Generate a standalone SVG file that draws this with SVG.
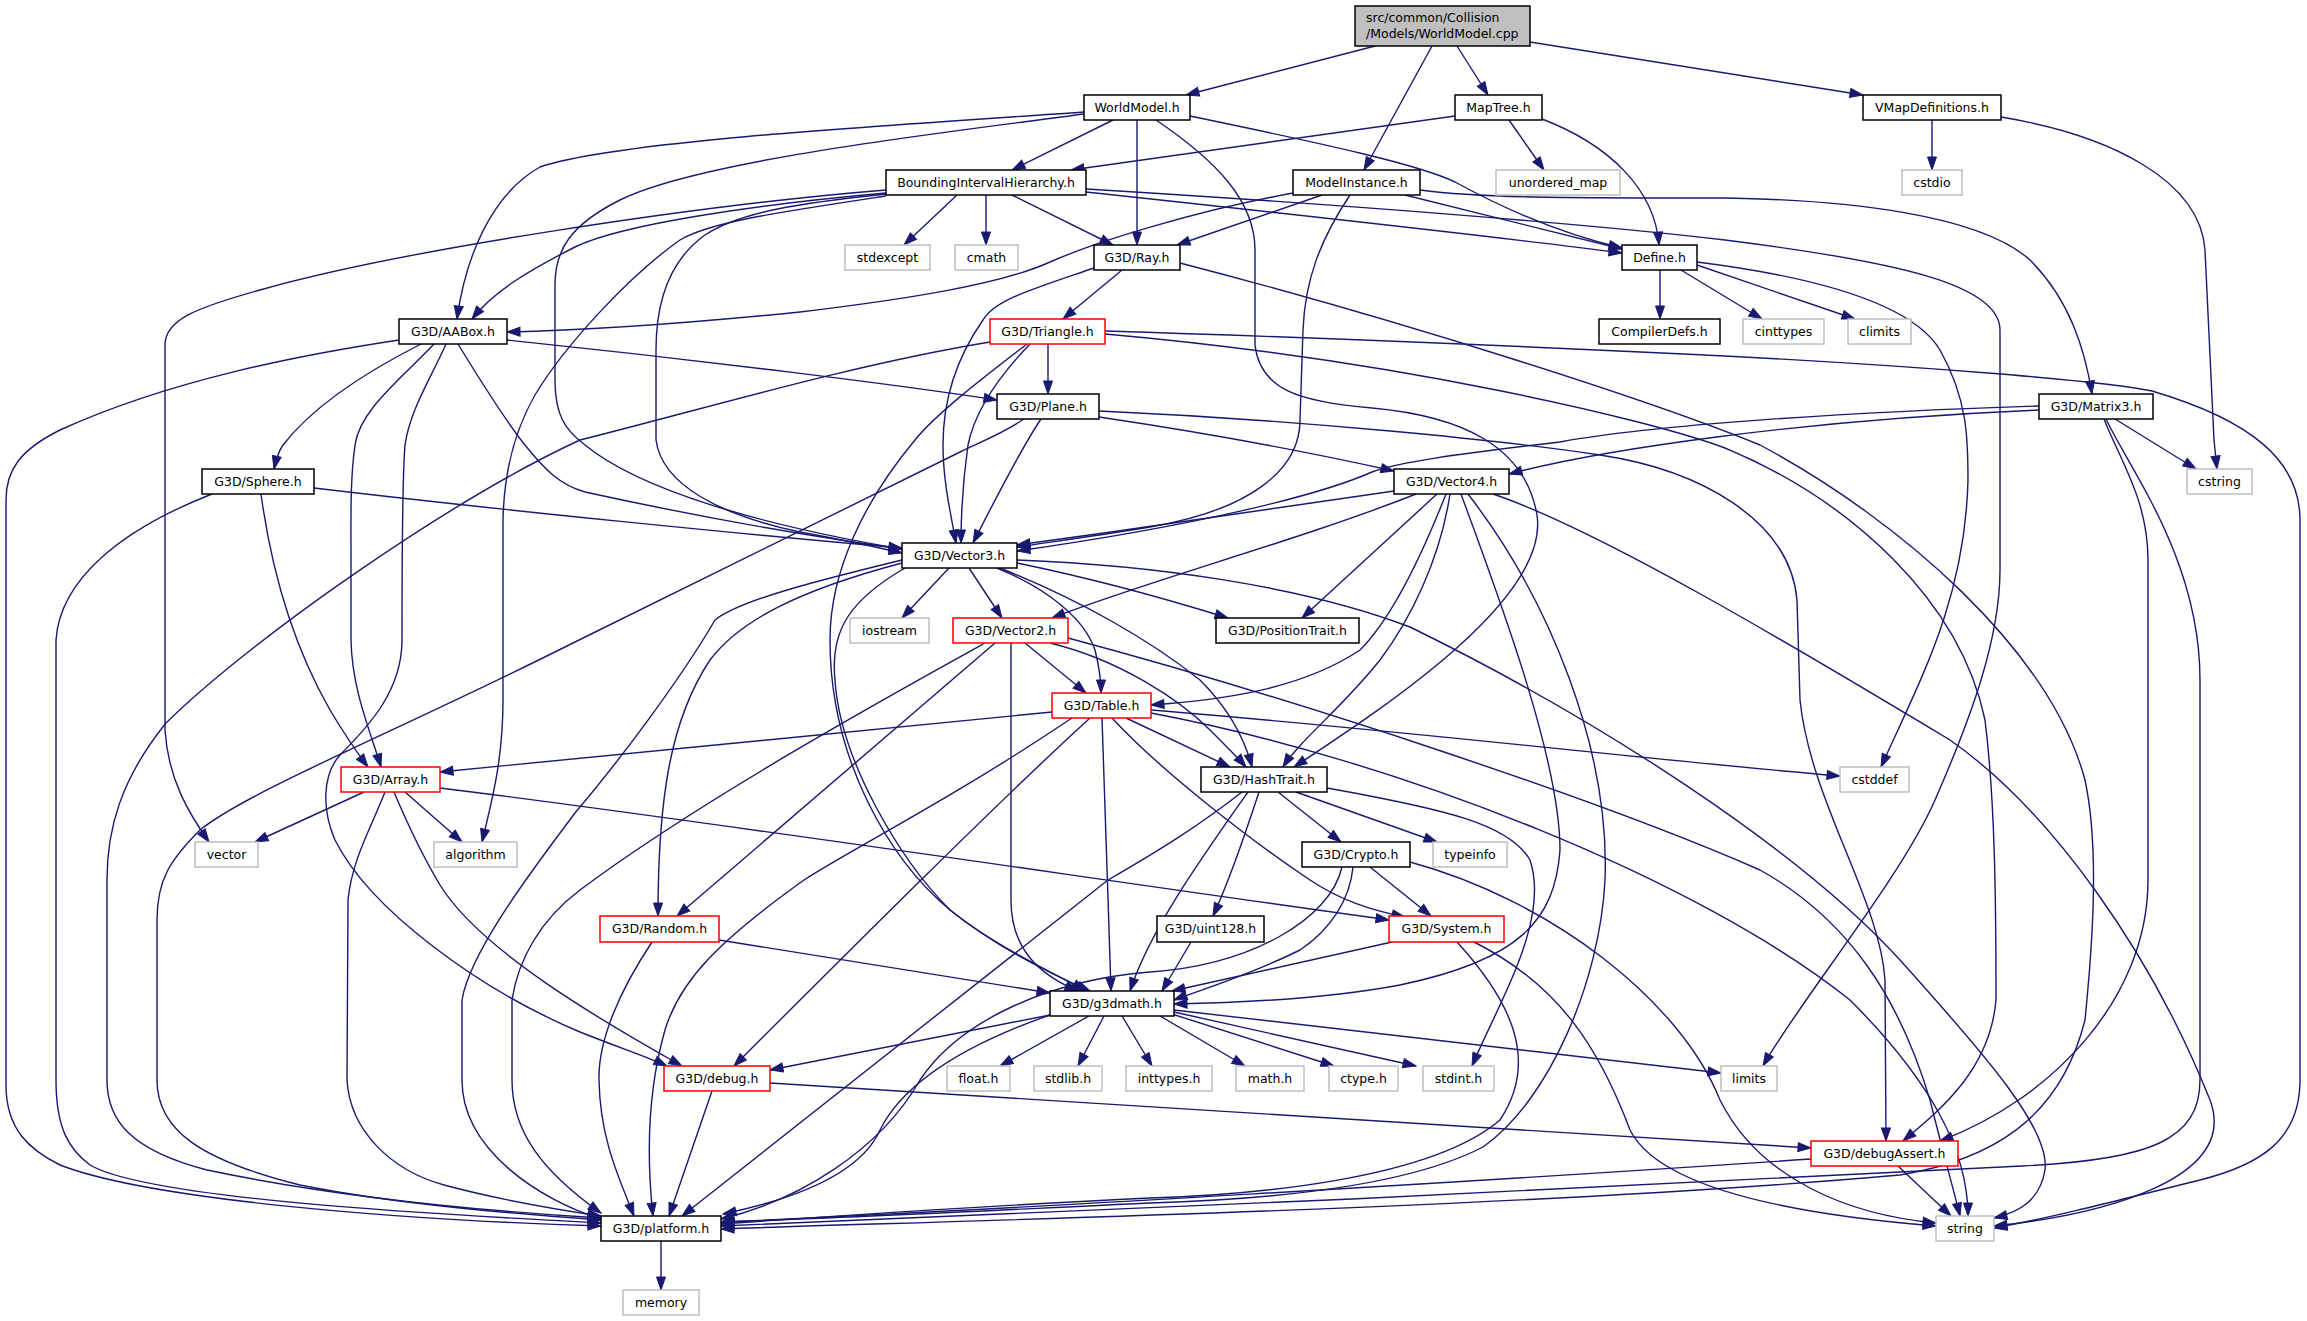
<svg xmlns="http://www.w3.org/2000/svg" width="2307" height="1321" viewBox="0 0 2307 1321">
<style>
.e{fill:none;stroke:#191970;stroke-width:1.4;marker-end:url(#a)}
.n{fill:#fff;stroke:#000;stroke-width:1.5}
.r{fill:#fff;stroke:#ff0000;stroke-width:1.5}
.g{fill:#fff;stroke:#bfbfbf;stroke-width:1.5}
.root{fill:#bfbfbf;stroke:#000;stroke-width:1.5}
text{font-family:"DejaVu Sans","Liberation Sans",sans-serif;font-size:12.5px;fill:#000;text-anchor:middle}
.l{text-anchor:start}
</style>
<defs>
<marker id="a" markerUnits="userSpaceOnUse" markerWidth="14" markerHeight="10" refX="13" refY="4.5" orient="auto" overflow="visible">
<path d="M0,0 L13,4.5 L0,9 Z" fill="#191970" stroke="#191970" stroke-width="1"/>
</marker>
</defs>
<rect width="2307" height="1321" fill="#fff"/>
<g id="edges">
<path class="e" d="M1375,46 L1186,95"/>
<path class="e" d="M1432,46 L1364,170"/>
<path class="e" d="M1457,46 L1488,95"/>
<path class="e" d="M1530,42 L1863,95"/>
<path class="e" d="M1113,120 L1012,170"/>
<path class="e" d="M1137,120 L1137,245"/>
<path class="e" d="M1190,116 C1330,145 1420,165 1455,182 C1510,212 1570,236 1622,248"/>
<path class="e" d="M1084,112 C900,125 620,140 540,167 C490,195 465,260 457,319"/>
<path class="e" d="M1084,114 C950,132 700,160 620,200 C570,225 555,250 555,285 L555,380 C555,415 565,430 585,445 C640,490 760,525 902,549"/>
<path class="e" d="M1156,120 C1215,160 1255,200 1255,250 L1255,345 C1260,390 1300,402 1372,408 C1460,416 1525,445 1537,515 C1550,600 1380,710 1294,767"/>
<path class="e" d="M1455,116 L1071,170"/>
<path class="e" d="M1509,120 L1544,170"/>
<path class="e" d="M1542,119 C1610,145 1655,190 1659,245"/>
<path class="e" d="M1932,120 L1932,170"/>
<path class="e" d="M2001,117 C2110,135 2200,180 2205,250 L2214,440 C2215,450 2216,460 2217,469"/>
<path class="e" d="M957,195 L904,245"/>
<path class="e" d="M986,195 L986,245"/>
<path class="e" d="M1012,195 L1113,245"/>
<path class="e" d="M1086,192 C1300,215 1500,237 1622,253"/>
<path class="e" d="M886,193 C750,205 620,225 575,247 C530,270 495,290 472,319"/>
<path class="e" d="M886,194 C800,203 740,212 705,235 C670,260 656,300 656,350 L656,440 C662,485 720,515 800,532 C850,541 880,548 902,553"/>
<path class="e" d="M886,190 C700,205 400,250 260,290 C195,308 165,320 165,345 L165,730 C168,780 190,815 209,842"/>
<path class="e" d="M886,196 C780,212 710,222 680,240 C630,275 565,345 535,395 C515,430 504,470 503,520 L503,700 C503,760 492,800 482,842"/>
<path class="e" d="M1086,189 C1350,205 1600,225 1725,240 C1900,262 2000,285 2000,330 L2000,570 C2000,640 1970,720 1935,800 C1900,880 1800,1000 1763,1066"/>
<path class="e" d="M1322,195 L1177,245"/>
<path class="e" d="M1405,195 L1622,249"/>
<path class="e" d="M1293,193 C1200,210 1100,240 1050,262 C1000,285 900,300 800,312 C700,322 600,330 507,332"/>
<path class="e" d="M1350,195 C1320,240 1305,280 1303,330 L1300,420 C1300,470 1250,510 1150,527 C1090,537 1050,542 1017,547"/>
<path class="e" d="M1420,190 C1480,198 1560,198 1725,198 C1850,200 1980,215 2030,260 C2070,300 2085,350 2092,394"/>
<path class="e" d="M1660,270 L1660,319"/>
<path class="e" d="M1681,270 L1762,319"/>
<path class="e" d="M1697,265 L1855,319"/>
<path class="e" d="M1697,262 C1800,275 1910,300 1940,350 C1968,400 1968,440 1968,480 C1965,600 1920,680 1881,767"/>
<path class="e" d="M1122,270 L1063,319"/>
<path class="e" d="M1094,268 C1030,290 995,300 983,320 C955,360 943,400 943,445 C943,480 950,510 956,543"/>
<path class="e" d="M1180,263 C1400,320 1650,400 1760,445 C1900,520 2050,650 2085,780 C2100,850 2092,950 2085,1020 C2060,1120 1990,1160 1900,1175 C1500,1210 900,1222 721,1229"/>
<path class="e" d="M1048,344 L1048,394"/>
<path class="e" d="M1030,344 C1000,375 975,410 968,445 C963,480 961,510 961,543"/>
<path class="e" d="M1027,344 C980,380 935,415 915,440 C865,500 830,570 830,640 C830,760 890,860 950,910 C1000,950 1060,978 1090,991"/>
<path class="e" d="M990,342 C850,365 700,410 580,440 C450,500 250,640 166,723 C120,780 107,830 107,880 L107,1080 C107,1120 130,1150 207,1170 C350,1200 500,1212 601,1218"/>
<path class="e" d="M1105,334 C1400,360 1650,420 1725,448 C1850,500 1960,600 1985,720 C1995,800 1996,900 1996,1000 C1990,1070 1940,1110 1903,1141"/>
<path class="e" d="M1105,331 C1400,340 1600,350 1725,356 C1900,365 2100,380 2152,391 C2250,420 2300,460 2300,520 L2300,1080 C2300,1140 2260,1165 2200,1180 C2100,1205 2040,1220 1994,1228"/>
<path class="e" d="M507,340 C700,360 900,385 997,400"/>
<path class="e" d="M421,344 C360,375 310,410 283,445 C278,452 276,460 274,469"/>
<path class="e" d="M434,344 C400,380 360,410 355,445 C350,480 351,520 351,560 L351,640 C352,690 370,730 381,767"/>
<path class="e" d="M458,344 C480,380 505,420 525,445 C545,470 560,485 585,492 C690,515 800,535 902,549"/>
<path class="e" d="M446,344 C430,380 410,410 405,445 C402,480 402,560 402,640 C402,690 370,725 340,755 C322,775 322,810 335,840 C370,910 480,990 580,1032 C620,1048 650,1058 667,1066"/>
<path class="e" d="M399,340 C300,355 170,380 60,430 C20,450 6,470 6,500 L6,1085 C6,1130 30,1150 60,1165 C150,1200 400,1220 601,1226"/>
<path class="e" d="M1099,417 C1200,432 1300,450 1394,471"/>
<path class="e" d="M1041,419 C1020,450 995,500 973,543"/>
<path class="e" d="M1024,419 C1000,435 980,442 960,452 L575,642 C400,730 250,790 200,830 C170,860 157,880 157,920 L157,1080 C157,1130 200,1160 300,1185 C400,1205 520,1214 601,1220"/>
<path class="e" d="M1099,411 C1300,420 1500,440 1600,455 C1700,470 1790,520 1797,600 L1800,700 C1810,800 1880,900 1885,980 L1886,1141"/>
<path class="e" d="M2039,410 C1800,420 1600,450 1509,474"/>
<path class="e" d="M2039,406 C1850,412 1650,425 1560,442 C1450,455 1400,462 1372,472 C1320,495 1200,525 1017,551"/>
<path class="e" d="M2115,419 L2196,469"/>
<path class="e" d="M2104,419 C2120,460 2148,500 2148,560 L2148,880 C2148,1000 2050,1100 1940,1141"/>
<path class="e" d="M2106,419 C2130,470 2200,560 2200,680 L2200,1080 C2200,1140 2150,1160 2022,1166 C1800,1180 1000,1215 721,1226"/>
<path class="e" d="M314,488 C500,510 750,535 902,548"/>
<path class="e" d="M261,494 C270,560 290,640 330,710 C345,735 355,750 368,767"/>
<path class="e" d="M212,494 C120,530 60,580 56,640 L56,1080 C56,1130 70,1150 90,1165 C150,1200 450,1215 601,1223"/>
<path class="e" d="M1394,491 C1300,505 1150,527 1017,545"/>
<path class="e" d="M1416,494 C1300,540 1150,580 1052,618"/>
<path class="e" d="M1437,494 L1302,618"/>
<path class="e" d="M1446,494 C1420,560 1390,620 1360,650 C1300,690 1220,700 1151,705"/>
<path class="e" d="M1450,494 C1440,560 1410,620 1380,660 C1340,710 1300,740 1283,767"/>
<path class="e" d="M1461,494 C1500,600 1560,760 1560,850 C1555,920 1520,960 1400,985 C1320,1000 1230,1003 1174,1004"/>
<path class="e" d="M1468,494 C1550,600 1610,750 1605,880 C1600,980 1550,1100 1483,1147 C1400,1190 1250,1200 1150,1203 C1000,1210 850,1218 721,1222"/>
<path class="e" d="M1493,494 C1600,530 1800,650 1950,740 C2050,810 2150,950 2210,1100 C2240,1180 2100,1215 1994,1226"/>
<path class="e" d="M949,568 L902,618"/>
<path class="e" d="M969,568 L1002,618"/>
<path class="e" d="M1017,563 C1100,580 1170,600 1228,618"/>
<path class="e" d="M997,568 C1050,590 1085,620 1095,650 C1100,670 1101,680 1101,693"/>
<path class="e" d="M1000,568 C1080,600 1150,640 1200,680 C1230,710 1245,740 1252,767"/>
<path class="e" d="M905,568 C850,600 830,630 835,680 C840,760 900,860 950,910 C1000,950 1060,975 1085,991"/>
<path class="e" d="M902,563 C800,590 740,620 710,660 C670,720 658,800 658,916"/>
<path class="e" d="M902,560 C820,580 740,600 715,620 C680,680 620,760 575,813 C540,860 470,950 462,1000 L462,1080 C462,1150 540,1200 601,1219"/>
<path class="e" d="M1017,560 C1150,565 1300,585 1410,627 C1600,720 1800,850 1900,960 C1990,1060 2050,1130 2045,1170 C2040,1200 2020,1212 1994,1218"/>
<path class="e" d="M1025,643 L1086,693"/>
<path class="e" d="M1050,643 C1120,660 1180,700 1210,730 C1230,750 1240,760 1246,767"/>
<path class="e" d="M1011,643 L1011,900 C1011,950 1040,975 1078,991"/>
<path class="e" d="M995,643 L677,916"/>
<path class="e" d="M985,643 C900,690 700,800 580,890 C540,920 518,960 512,1000 L512,1080 C512,1130 540,1170 601,1213"/>
<path class="e" d="M1068,638 C1300,700 1600,800 1760,870 C1850,920 1900,1000 1930,1100 C1945,1160 1955,1195 1960,1216"/>
<path class="e" d="M1052,712 L440,772"/>
<path class="e" d="M1126,718 L1230,767"/>
<path class="e" d="M1151,710 C1400,730 1650,760 1840,776"/>
<path class="e" d="M1112,718 C1160,770 1250,840 1310,880 C1340,900 1370,910 1405,917"/>
<path class="e" d="M1102,718 C1105,800 1108,900 1111,991"/>
<path class="e" d="M1090,718 C1000,800 850,950 734,1066"/>
<path class="e" d="M1072,718 C950,800 850,850 804,880 C720,940 680,980 665,1030 C645,1100 648,1170 653,1216"/>
<path class="e" d="M1151,713 C1400,760 1700,880 1850,1000 C1930,1080 1968,1150 1968,1216"/>
<path class="e" d="M364,792 L255,842"/>
<path class="e" d="M405,792 L462,842"/>
<path class="e" d="M440,788 C700,820 1100,880 1389,920"/>
<path class="e" d="M394,792 C410,830 425,860 440,885 C480,950 600,1020 682,1066"/>
<path class="e" d="M385,792 C370,830 352,860 348,900 L347,1080 C350,1130 390,1170 444,1185 C500,1200 560,1210 601,1216"/>
<path class="e" d="M1278,792 L1341,842"/>
<path class="e" d="M1296,792 L1437,842"/>
<path class="e" d="M1259,792 C1240,850 1225,890 1213,916"/>
<path class="e" d="M1248,792 C1200,860 1150,930 1130,991"/>
<path class="e" d="M1242,792 C1200,825 1160,850 1108,880 L682,1216"/>
<path class="e" d="M1327,788 C1450,810 1510,825 1530,860 C1550,920 1500,1000 1472,1066"/>
<path class="e" d="M1370,867 L1431,916"/>
<path class="e" d="M1353,867 C1350,900 1330,930 1300,950 C1250,975 1200,990 1174,1000"/>
<path class="e" d="M1342,867 C1330,920 1250,965 1150,972 C1050,980 960,1020 920,1080 C880,1150 800,1200 721,1219"/>
<path class="e" d="M1410,862 C1550,900 1680,1000 1720,1100 C1760,1180 1850,1215 1936,1223"/>
<path class="e" d="M719,940 L1050,993"/>
<path class="e" d="M652,942 C620,990 598,1040 599,1080 C600,1140 620,1180 634,1216"/>
<path class="e" d="M1191,942 L1162,991"/>
<path class="e" d="M1392,942 L1172,991"/>
<path class="e" d="M1457,942 C1510,1000 1540,1060 1500,1120 C1430,1180 1250,1195 1150,1198 C1000,1205 850,1215 721,1224"/>
<path class="e" d="M1474,942 C1560,985 1600,1050 1630,1130 C1660,1190 1800,1215 1936,1226"/>
<path class="e" d="M1050,1015 L770,1070"/>
<path class="e" d="M1089,1016 L1000,1066"/>
<path class="e" d="M1104,1016 L1078,1066"/>
<path class="e" d="M1122,1016 L1152,1066"/>
<path class="e" d="M1160,1016 L1245,1066"/>
<path class="e" d="M1172,1014 L1334,1066"/>
<path class="e" d="M1174,1012 L1416,1066"/>
<path class="e" d="M1174,1010 L1721,1073"/>
<path class="e" d="M1050,1015 C950,1050 900,1090 880,1130 C860,1175 790,1200 723,1214"/>
<path class="e" d="M712,1091 L669,1216"/>
<path class="e" d="M770,1083 C1200,1110 1600,1135 1811,1148"/>
<path class="e" d="M1811,1159 C1500,1180 1000,1210 721,1222"/>
<path class="e" d="M1898,1166 L1951,1216"/>
<path class="e" d="M661,1241 L661,1290"/>
</g>
<g id="n_root"><rect class="root" x="1355" y="6" width="175" height="40"/><text class="l" x="1366" y="22">src/common/Collision</text><text class="l" x="1366" y="38">/Models/WorldModel.cpp</text></g>
<g id="n_worldmodel"><rect class="n" x="1084" y="95" width="106" height="25"/><text x="1137" y="112">WorldModel.h</text></g>
<g id="n_maptree"><rect class="n" x="1455" y="95" width="87" height="25"/><text x="1498.5" y="112">MapTree.h</text></g>
<g id="n_vmapdef"><rect class="n" x="1863" y="95" width="138" height="25"/><text x="1932" y="112">VMapDefinitions.h</text></g>
<g id="n_bih"><rect class="n" x="886" y="170" width="200" height="25"/><text x="986" y="187">BoundingIntervalHierarchy.h</text></g>
<g id="n_modelinstance"><rect class="n" x="1293" y="170" width="127" height="25"/><text x="1356.5" y="187">ModelInstance.h</text></g>
<g id="n_unordered_map"><rect class="g" x="1496" y="170" width="124" height="25"/><text x="1558" y="187">unordered_map</text></g>
<g id="n_cstdio"><rect class="g" x="1902" y="170" width="60" height="25"/><text x="1932" y="187">cstdio</text></g>
<g id="n_stdexcept"><rect class="g" x="845" y="245" width="85" height="25"/><text x="887.5" y="262">stdexcept</text></g>
<g id="n_cmath"><rect class="g" x="955" y="245" width="63" height="25"/><text x="986.5" y="262">cmath</text></g>
<g id="n_ray"><rect class="n" x="1094" y="245" width="86" height="25"/><text x="1137" y="262">G3D/Ray.h</text></g>
<g id="n_define"><rect class="n" x="1622" y="245" width="75" height="25"/><text x="1659.5" y="262">Define.h</text></g>
<g id="n_compilerdefs"><rect class="n" x="1599" y="319" width="121" height="25"/><text x="1659.5" y="336">CompilerDefs.h</text></g>
<g id="n_cinttypes"><rect class="g" x="1743" y="319" width="81" height="25"/><text x="1783.5" y="336">cinttypes</text></g>
<g id="n_climits"><rect class="g" x="1848" y="319" width="63" height="25"/><text x="1879.5" y="336">climits</text></g>
<g id="n_aabox"><rect class="n" x="399" y="319" width="108" height="25"/><text x="453" y="336">G3D/AABox.h</text></g>
<g id="n_triangle"><rect class="r" x="990" y="319" width="115" height="25"/><text x="1047.5" y="336">G3D/Triangle.h</text></g>
<g id="n_plane"><rect class="n" x="997" y="394" width="102" height="25"/><text x="1048" y="411">G3D/Plane.h</text></g>
<g id="n_matrix3"><rect class="n" x="2039" y="394" width="114" height="25"/><text x="2096" y="411">G3D/Matrix3.h</text></g>
<g id="n_sphere"><rect class="n" x="202" y="469" width="112" height="25"/><text x="258" y="486">G3D/Sphere.h</text></g>
<g id="n_vector4"><rect class="n" x="1394" y="469" width="115" height="25"/><text x="1451.5" y="486">G3D/Vector4.h</text></g>
<g id="n_cstring"><rect class="g" x="2187" y="469" width="65" height="25"/><text x="2219.5" y="486">cstring</text></g>
<g id="n_vector3"><rect class="n" x="902" y="543" width="115" height="25"/><text x="959.5" y="560">G3D/Vector3.h</text></g>
<g id="n_iostream"><rect class="g" x="850" y="618" width="79" height="25"/><text x="889.5" y="635">iostream</text></g>
<g id="n_vector2"><rect class="r" x="953" y="618" width="115" height="25"/><text x="1010.5" y="635">G3D/Vector2.h</text></g>
<g id="n_positiontrait"><rect class="n" x="1216" y="618" width="143" height="25"/><text x="1287.5" y="635">G3D/PositionTrait.h</text></g>
<g id="n_table"><rect class="r" x="1052" y="693" width="99" height="25"/><text x="1101.5" y="710">G3D/Table.h</text></g>
<g id="n_hashtrait"><rect class="n" x="1201" y="767" width="126" height="25"/><text x="1264" y="784">G3D/HashTrait.h</text></g>
<g id="n_cstddef"><rect class="g" x="1840" y="767" width="69" height="25"/><text x="1874.5" y="784">cstddef</text></g>
<g id="n_array"><rect class="r" x="341" y="767" width="99" height="25"/><text x="390.5" y="784">G3D/Array.h</text></g>
<g id="n_vector"><rect class="g" x="195" y="842" width="63" height="25"/><text x="226.5" y="859">vector</text></g>
<g id="n_algorithm"><rect class="g" x="434" y="842" width="83" height="25"/><text x="475.5" y="859">algorithm</text></g>
<g id="n_crypto"><rect class="n" x="1302" y="842" width="108" height="25"/><text x="1356" y="859">G3D/Crypto.h</text></g>
<g id="n_typeinfo"><rect class="g" x="1433" y="842" width="74" height="25"/><text x="1470" y="859">typeinfo</text></g>
<g id="n_random"><rect class="r" x="600" y="916" width="119" height="26"/><text x="659.5" y="933">G3D/Random.h</text></g>
<g id="n_uint128"><rect class="n" x="1157" y="916" width="107" height="26"/><text x="1210.5" y="933">G3D/uint128.h</text></g>
<g id="n_system"><rect class="r" x="1389" y="916" width="115" height="26"/><text x="1446.5" y="933">G3D/System.h</text></g>
<g id="n_g3dmath"><rect class="n" x="1050" y="991" width="124" height="25"/><text x="1112" y="1008">G3D/g3dmath.h</text></g>
<g id="n_debug"><rect class="r" x="664" y="1066" width="106" height="25"/><text x="717" y="1083">G3D/debug.h</text></g>
<g id="n_float"><rect class="g" x="947" y="1066" width="63" height="25"/><text x="978.5" y="1083">float.h</text></g>
<g id="n_stdlib"><rect class="g" x="1034" y="1066" width="68" height="25"/><text x="1068" y="1083">stdlib.h</text></g>
<g id="n_inttypes"><rect class="g" x="1126" y="1066" width="86" height="25"/><text x="1169" y="1083">inttypes.h</text></g>
<g id="n_math"><rect class="g" x="1236" y="1066" width="68" height="25"/><text x="1270" y="1083">math.h</text></g>
<g id="n_ctype"><rect class="g" x="1329" y="1066" width="69" height="25"/><text x="1363.5" y="1083">ctype.h</text></g>
<g id="n_stdint"><rect class="g" x="1423" y="1066" width="71" height="25"/><text x="1458.5" y="1083">stdint.h</text></g>
<g id="n_limits"><rect class="g" x="1721" y="1066" width="56" height="25"/><text x="1749" y="1083">limits</text></g>
<g id="n_debugassert"><rect class="r" x="1811" y="1141" width="147" height="25"/><text x="1884.5" y="1158">G3D/debugAssert.h</text></g>
<g id="n_platform"><rect class="n" x="601" y="1216" width="120" height="25"/><text x="661" y="1233">G3D/platform.h</text></g>
<g id="n_string"><rect class="g" x="1936" y="1216" width="58" height="25"/><text x="1965" y="1233">string</text></g>
<g id="n_memory"><rect class="g" x="623" y="1290" width="76" height="25"/><text x="661" y="1307">memory</text></g>
</svg>
